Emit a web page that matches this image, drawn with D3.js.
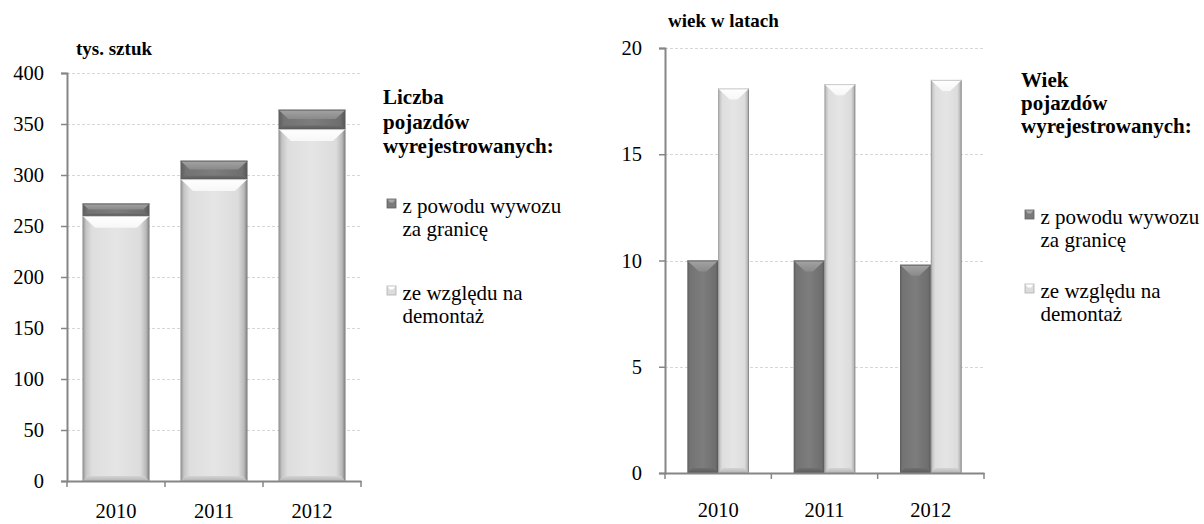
<!DOCTYPE html>
<html><head><meta charset="utf-8">
<script src="https://cdn.jsdelivr.net/npm/d3@7"></script>
<style>
html,body{margin:0;padding:0;background:#fff;}
svg{display:block;}
svg text{font-family:'Liberation Serif','Tinos','Times New Roman','DejaVu Serif',serif;fill:#000;}
</style></head>
<body>
<svg id="chart" width="1204" height="524"></svg>
<script>
// ---- data ----
const years = ["2010", "2011", "2012"];
const countExport = [12, 18, 19];        // tys. sztuk – z powodu wywozu za granicę
const countDismantle = [260, 296, 345];  // tys. sztuk – ze względu na demontaż
const ageExport = [10.0, 10.0, 9.8];     // wiek – z powodu wywozu za granicę
const ageDismantle = [18.1, 18.3, 18.5]; // wiek – ze względu na demontaż
const leftTicks = [0, 50, 100, 150, 200, 250, 300, 350, 400];
const rightTicks = [0, 5, 10, 15, 20];
const seriesNames = ["z powodu wywozu|za granicę", "ze względu na|demontaż"];

const FONT = "'Liberation Serif','Tinos','Times New Roman','DejaVu Serif',serif";
const svg = d3.select("#chart");
const defs = svg.append("defs");

function hGrad(id, stops) {
  const g = defs.append("linearGradient").attr("id", id).attr("x1", 0).attr("x2", 1).attr("y1", 0).attr("y2", 0);
  stops.forEach(s => g.append("stop").attr("offset", s[0]).attr("stop-color", s[1]));
}
function vGrad(id, stops) {
  const g = defs.append("linearGradient").attr("id", id).attr("x1", 0).attr("x2", 0).attr("y1", 0).attr("y2", 1);
  stops.forEach(s => g.append("stop").attr("offset", s[0]).attr("stop-color", s[1]));
}
hGrad("lightH", [[0, "#8a8a8a"], [0.05, "#c4c4c4"], [0.14, "#dedede"], [0.5, "#e5e5e5"], [0.86, "#dcdcdc"], [0.95, "#b8b8b8"], [1, "#777"]]);
hGrad("darkH", [[0, "#5c5c5c"], [0.08, "#737373"], [0.5, "#7d7d7d"], [0.92, "#6e6e6e"], [1, "#555"]]);
vGrad("lightTop", [[0, "#ffffff"], [1, "#f7f7f7"]]);
vGrad("darkTop", [[0, "#a4a4a4"], [1, "#8a8a8a"]]);
vGrad("lightBot", [[0, "#d4d4d4"], [1, "#b4b4b4"]]);
vGrad("darkBot", [[0, "#707070"], [1, "#5a5a5a"]]);

const AX = "#868686";

function bevelBar(g, x, w, yTop, yBot, kind, topDepth) {
  const h = yBot - yTop;
  if (h <= 0) return;
  g.append("rect").attr("x", x).attr("y", yTop).attr("width", w).attr("height", h)
    .attr("fill", kind === "light" ? "url(#lightH)" : "url(#darkH)");
  const d = Math.min(topDepth, h * 0.48);
  const ins = Math.min(d * 1.05, w * 0.4);
  g.append("path")
    .attr("d", `M${x},${yTop}L${x + w},${yTop}L${x + w - ins},${yTop + d}L${x + ins},${yTop + d}Z`)
    .attr("fill", kind === "light" ? "url(#lightTop)" : "url(#darkTop)");
  const b = Math.min(5, h * 0.2);
  g.append("path")
    .attr("d", `M${x},${yBot}L${x + w},${yBot}L${x + w - b},${yBot - b}L${x + b},${yBot - b}Z`)
    .attr("fill", kind === "light" ? "url(#lightBot)" : "url(#darkBot)");
  g.append("line").attr("x1", x).attr("x2", x + w).attr("y1", yTop + 0.5).attr("y2", yTop + 0.5)
    .attr("stroke", kind === "light" ? "#c8c8c8" : "#6a6a6a").attr("stroke-width", 1);
}

function grid(g, y, ticks, x0, x1) {
  g.append("g").selectAll("line").data(ticks.slice(1)).join("line")
    .attr("x1", x0).attr("x2", x1)
    .attr("y1", d => Math.round(y(d)) + 0.5).attr("y2", d => Math.round(y(d)) + 0.5)
    .attr("stroke", "#d6d6d6").attr("stroke-width", 1).attr("stroke-dasharray", "3,2");
}

function styleAxis(sel) {
  sel.attr("font-family", FONT).attr("font-size", 20.5);
  sel.selectAll("path").attr("stroke", AX).attr("stroke-width", 2);
  sel.selectAll("line").attr("stroke", AX).attr("stroke-width", 1.5);
  sel.selectAll("text").attr("fill", "#000");
}

function legend(g, lx, titleLines, titleY, titleStep, itemY, itemStep, itemGap) {
  titleLines.forEach((t, i) => {
    g.append("text").attr("x", lx).attr("y", titleY + i * titleStep).attr("font-weight", "bold").attr("font-size", 21).text(t);
  });
  seriesNames.forEach((s, i) => {
    const y0 = itemY + i * itemGap;
    const mk = g.append("g");
    mk.append("rect").attr("x", lx + 4).attr("y", y0 - 14).attr("width", 9).attr("height", 9)
      .attr("fill", i === 0 ? "#7a7a7a" : "#dcdcdc").attr("stroke", i === 0 ? "#606060" : "#b0b0b0").attr("stroke-width", 0.8);
    mk.append("path").attr("d", `M${lx + 4.5},${y0 - 13.5}L${lx + 12.5},${y0 - 13.5}L${lx + 10},${y0 - 10.5}L${lx + 7},${y0 - 10.5}Z`)
      .attr("fill", i === 0 ? "#a8a8a8" : "#fff");
    s.split("|").forEach((line, j) => {
      g.append("text").attr("x", lx + 19.5).attr("y", y0 + j * itemStep).attr("font-size", 21).text(line);
    });
  });
}

// ---------- LEFT CHART ----------
{
  const g = svg.append("g");
  const x = d3.scaleBand().domain(years).range([67, 361]).paddingInner(0.316).paddingOuter(0.158);
  const y = d3.scaleLinear().domain([0, 400]).range([481, 73]);
  grid(g, y, leftTicks, 67, 361);
  const bars = g.append("g");
  years.forEach((yr, i) => {
    const bx = x(yr), bw = x.bandwidth();
    const base = countDismantle[i];
    bevelBar(bars, bx, bw, y(base), y(0), "light", 12);
    bevelBar(bars, bx, bw, y(base + countExport[i]), y(base), "dark", 10);
  });
  const ya = g.append("g").attr("transform", "translate(67,0)")
    .call(d3.axisLeft(y).tickValues(leftTicks).tickSize(6).tickPadding(17));
  styleAxis(ya);
  const xa = g.append("g").attr("transform", "translate(0,481)")
    .call(d3.axisBottom(x).tickSize(0).tickPadding(22).tickSizeOuter(0));
  styleAxis(xa);
  const bounds = [67, 67 + x.step(), 67 + 2 * x.step(), 361];
  g.append("g").selectAll("line").data(bounds).join("line")
    .attr("x1", d => d).attr("x2", d => d).attr("y1", 481).attr("y2", 487)
    .attr("stroke", AX).attr("stroke-width", 1.5);
  g.append("text").attr("x", 76).attr("y", 55).attr("font-weight", "bold").attr("font-size", 19).text("tys. sztuk");
  legend(g, 383, ["Liczba", "pojazdów", "wyrejestrowanych:"], 104, 24.5, 213, 23, 87);
}

// ---------- RIGHT CHART ----------
{
  const g = svg.append("g");
  const x = d3.scaleBand().domain(years).range([665, 984]).paddingInner(0.42).paddingOuter(0.21);
  const xs = d3.scaleBand().domain([0, 1]).range([0, x.bandwidth()]);
  const y = d3.scaleLinear().domain([0, 20]).range([473, 48]);
  grid(g, y, rightTicks, 665, 984);
  const bars = g.append("g");
  years.forEach((yr, i) => {
    const bx = x(yr);
    bevelBar(bars, bx + xs(0), xs.bandwidth(), y(ageExport[i]), y(0), "dark", 11);
    bevelBar(bars, bx + xs(1), xs.bandwidth(), y(ageDismantle[i]), y(0), "light", 11);
  });
  const ya = g.append("g").attr("transform", "translate(665,0)")
    .call(d3.axisLeft(y).tickValues(rightTicks).tickSize(6).tickPadding(17));
  styleAxis(ya);
  const xa = g.append("g").attr("transform", "translate(0,473)")
    .call(d3.axisBottom(x).tickSize(0).tickPadding(29).tickSizeOuter(0));
  styleAxis(xa);
  const bounds = [665, 665 + x.step(), 665 + 2 * x.step(), 984];
  g.append("g").selectAll("line").data(bounds).join("line")
    .attr("x1", d => d).attr("x2", d => d).attr("y1", 473).attr("y2", 479)
    .attr("stroke", AX).attr("stroke-width", 1.5);
  g.append("text").attr("x", 668).attr("y", 27).attr("font-weight", "bold").attr("font-size", 19).text("wiek w latach");
  legend(g, 1021, ["Wiek", "pojazdów", "wyrejestrowanych:"], 87, 23, 224, 23, 74);
}
</script>
</body></html>
